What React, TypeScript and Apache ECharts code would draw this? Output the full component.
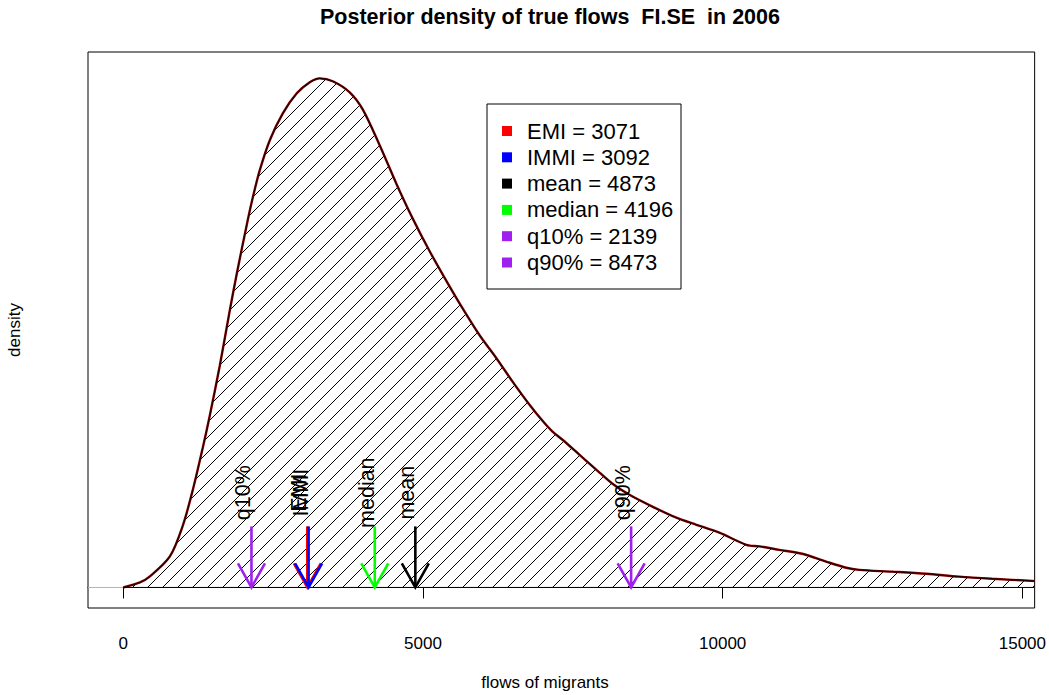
import React, { useEffect, useRef } from "react";
import * as echarts from "echarts";

// Posterior density curve (flows, density x 1e-5)
const flows = [0, 278, 445, 778, 995, 1162, 1328, 1445, 1612, 1778, 1895, 2062, 2162, 2278, 2445, 2662, 2895, 3112, 3278, 3495, 3778, 3995, 4278, 4562, 4828, 5112, 5395, 5662, 5945, 6228, 6495, 6778, 6995, 7162, 7328, 7612, 7895, 8162, 8445, 8828, 9228, 9562, 9945, 10395, 10612, 10945, 11328, 11728, 12062, 12278, 12828, 13395, 13945, 14495, 15162, 15205];
const densityE5 = [0, 0.19, 0.42, 1.18, 2.36, 3.72, 5.32, 6.54, 8.44, 10.53, 11.93, 13.79, 14.82, 15.85, 16.99, 18.01, 18.77, 19.19, 19.34, 19.23, 18.81, 18.16, 16.8, 15.31, 14.02, 12.77, 11.63, 10.6, 9.58, 8.7, 7.82, 6.94, 6.33, 5.92, 5.61, 5.04, 4.47, 3.94, 3.52, 3.07, 2.65, 2.38, 2.08, 1.62, 1.56, 1.43, 1.28, 0.98, 0.75, 0.67, 0.6, 0.52, 0.41, 0.33, 0.25, 0.24];

const xTicks = [0, 5000, 10000, 15000];

const statNames = ["EMI", "IMMI", "mean", "median", "q10%", "q90%"];
const statValues = [3071, 3092, 4873, 4196, 2139, 8473];
const statColors = ["#FF0000", "#0000FF", "#000000", "#00FF00", "#A020F0", "#A020F0"];

const X_MIN = -588;
const X_MAX = 15205;
const Y_MIN = -0.78;
const Y_MAX = 20.34;
const ARROW_TOP = 2.32;
const LABEL_Y = 3.6;

const FONT = "Liberation Sans, Arial, Helvetica, sans-serif";

function makeHatch(): string {
  const s = 15;
  const c = document.createElement("canvas");
  c.width = s;
  c.height = s;
  const ctx = c.getContext("2d");
  if (ctx) {
    ctx.strokeStyle = "#000";
    ctx.lineWidth = 1;
    for (const o of [-s, 0, s]) {
      ctx.beginPath();
      ctx.moveTo(o, s);
      ctx.lineTo(o + s, 0);
      ctx.stroke();
    }
  }
  return c.toDataURL();
}

export default function App() {
  const ref = useRef<HTMLDivElement>(null);

  useEffect(() => {
    if (!ref.current) return;
    const chart = echarts.init(ref.current, null, { renderer: "svg" });
    const hatch = makeHatch();
    const curve = flows.map((f, i) => [f, densityE5[i]]);

    const legendX = 487;
    const legendY = 104;
    const rowH = 26.3;
    const legendChildren: any[] = [
      {
        type: "rect",
        shape: { x: legendX, y: legendY, width: 194, height: 185 },
        style: { fill: "#fff", stroke: "#000", lineWidth: 1 },
      },
    ];
    statNames.forEach((n, i) => {
      const cy = legendY + 27 + i * rowH;
      legendChildren.push({
        type: "rect",
        shape: { x: 502, y: cy - 5, width: 10, height: 10 },
        style: { fill: statColors[i] },
      });
      legendChildren.push({
        type: "text",
        x: 527,
        y: cy,
        style: {
          text: `${n} = ${statValues[i]}`,
          font: `22px ${FONT}`,
          fill: "#000",
          align: "left",
          verticalAlign: "middle",
        },
      });
    });

    chart.setOption({
      animation: false,
      backgroundColor: "#fff",
      grid: {
        left: 88,
        right: 13,
        top: 52,
        bottom: 87,
        show: true,
        borderColor: "#000",
        borderWidth: 1,
        backgroundColor: "transparent",
      },
      xAxis: {
        type: "value",
        min: X_MIN,
        max: X_MAX,
        axisLine: { show: true, lineStyle: { color: "#000", width: 1 } },
        axisTick: { show: true, length: 11, customValues: xTicks, lineStyle: { color: "#000" } },
        axisLabel: {
          show: true,
          customValues: xTicks,
          formatter: (v: number) => String(v),
          margin: 27,
          fontSize: 17,
          color: "#000",
          fontFamily: FONT,
        },
        splitLine: { show: false },
      },
      yAxis: {
        type: "value",
        min: Y_MIN,
        max: Y_MAX,
        axisLine: { show: false },
        axisTick: { show: false },
        axisLabel: { show: false },
        splitLine: { show: false },
      },
      graphic: [
        {
          type: "text",
          x: 550,
          y: 17,
          style: {
            text: "Posterior density of true flows  FI.SE  in 2006",
            font: `bold 21.5px ${FONT}`,
            fill: "#000",
            align: "center",
            verticalAlign: "middle",
          },
        },
        {
          type: "text",
          x: 545,
          y: 682,
          style: {
            text: "flows of migrants",
            font: `17px ${FONT}`,
            fill: "#000",
            align: "center",
            verticalAlign: "middle",
          },
        },
        {
          type: "text",
          x: 23,
          y: 330,
          rotation: Math.PI / 2,
          style: {
            text: "density",
            font: `17px ${FONT}`,
            fill: "#000",
            align: "center",
            verticalAlign: "bottom",
          },
        },
        { type: "group", children: legendChildren, z: 100 },
      ],
      series: [
        {
          type: "line",
          data: [[X_MIN, 0], [X_MAX, 0]],
          symbol: "none",
          silent: true,
          lineStyle: { color: "#BEBEBE", width: 1 },
          z: 1,
        },
        {
          type: "line",
          data: curve,
          smooth: 0.3,
          symbol: "none",
          silent: true,
          lineStyle: { color: "#8B0000", width: 2.4 },
          areaStyle: {
            color: { image: hatch, repeat: "repeat", imageWidth: 15, imageHeight: 15 } as any,
            opacity: 1,
          },
          z: 2,
        },
        {
          type: "line",
          data: [[0, 0], [X_MAX, 0]],
          symbol: "none",
          silent: true,
          lineStyle: { color: "#000", width: 1 },
          z: 3,
        },
        {
          type: "line",
          data: curve,
          smooth: 0.3,
          symbol: "none",
          silent: true,
          lineStyle: { color: "#1a0000", width: 1.1 },
          z: 4,
        },
        {
          type: "custom",
          data: statValues.map((v, i) => [v, 0, i]),
          encode: { x: 0, y: 1 },
          silent: true,
          z: 5,
          renderItem: (params: any, api: any) => {
            const v = api.value(0);
            const i = api.value(2);
            const base = api.coord([v, 0]);
            const top = api.coord([v, ARROW_TOP]);
            const lab = api.coord([v, LABEL_Y]);
            const color = statColors[i];
            const hx = 13.5;
            const hy = 24;
            return {
              type: "group",
              children: [
                {
                  type: "line",
                  shape: { x1: base[0], y1: base[1], x2: top[0], y2: top[1] },
                  style: { stroke: color, lineWidth: 2.6 },
                },
                {
                  type: "polyline",
                  shape: {
                    points: [
                      [base[0] - hx, base[1] - hy],
                      [base[0], base[1]],
                      [base[0] + hx, base[1] - hy],
                    ],
                  },
                  style: { stroke: color, lineWidth: 2.6, fill: "none" },
                },
                {
                  type: "text",
                  x: base[0] + 3,
                  y: lab[1],
                  rotation: Math.PI / 2,
                  style: {
                    text: statNames[i],
                    font: `21.5px ${FONT}`,
                    fill: "#000",
                    align: "center",
                    verticalAlign: "bottom",
                  },
                },
              ],
            };
          },
        },
      ],
    });

    return () => {
      chart.dispose();
    };
  }, []);

  return (
    <div
      ref={ref}
      style={{ position: "absolute", left: 0, top: 0, width: 1049, height: 695 }}
    />
  );
}
